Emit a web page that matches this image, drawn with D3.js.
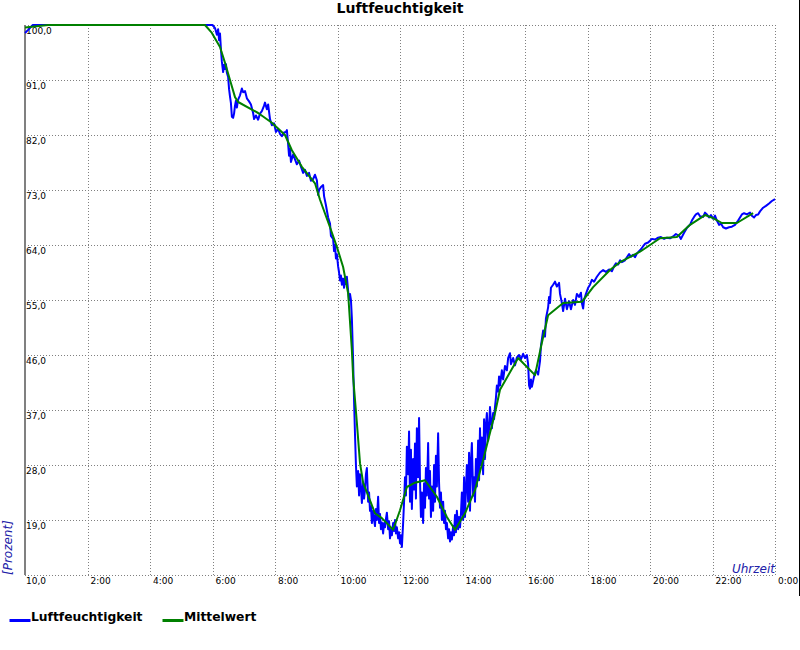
<!DOCTYPE html>
<html><head><meta charset="utf-8">
<script src="https://cdn.jsdelivr.net/npm/d3@7"></script>
<style>
body{margin:0;background:#fff;}
svg{display:block;font-family:"DejaVu Sans",sans-serif;}
</style></head>
<body>
<svg id="c" width="800" height="650"></svg>
<script>
// ---- data ----
const chartTitle = "Luftfeuchtigkeit";
const yTicks = [100, 91, 82, 73, 64, 55, 46, 37, 28, 19, 10];
const xTicks = [2, 4, 6, 8, 10, 12, 14, 16, 18, 20, 22, 24];
const xTickLabels = ["2:00","4:00","6:00","8:00","10:00","12:00","14:00","16:00","18:00","20:00","22:00","0:00"];
const seriesNames = ["Luftfeuchtigkeit", "Mittelwert"];
// [hour, percent]
const humidity = [[0,98.7],[0.1,99.2],[0.25,100],[6.0,100],[6.08,99.5],[6.14,98.4],[6.18,99.3],[6.21,97.5],[6.24,98.6],[6.27,96.0],[6.30,94.0],[6.34,92.3],[6.37,93.5],[6.40,92.8],[6.43,93.6],[6.46,92.2],[6.50,91.5],[6.53,89.5],[6.56,88.3],[6.59,87.2],[6.62,85.0],[6.66,84.8],[6.69,85.5],[6.72,86.8],[6.75,87.6],[6.78,86.5],[6.82,87.8],[6.88,88.5],[6.94,89.6],[6.98,89.0],[7.04,89.2],[7.10,88.0],[7.17,87.5],[7.23,87.0],[7.30,85.6],[7.33,84.6],[7.39,85.2],[7.46,84.5],[7.52,85.5],[7.58,85.9],[7.65,86.8],[7.68,87.3],[7.74,86.2],[7.78,87.0],[7.84,84.6],[7.90,83.6],[7.97,83.9],[8.03,82.5],[8.10,83.0],[8.16,82.2],[8.22,81.8],[8.29,82.4],[8.35,82.5],[8.38,82.8],[8.42,80.5],[8.45,78.6],[8.48,79.8],[8.51,77.6],[8.58,78.8],[8.64,78.0],[8.70,77.2],[8.77,77.8],[8.83,76.8],[8.90,75.8],[8.96,76.3],[9.02,75.3],[9.09,75.8],[9.15,74.5],[9.22,74.8],[9.28,75.5],[9.34,74.6],[9.38,72.2],[9.41,73.0],[9.47,73.5],[9.54,73.8],[9.57,72.0],[9.63,70.5],[9.70,68.5],[9.76,67.5],[9.79,65.5],[9.86,65.0],[9.89,63.0],[9.92,64.0],[9.95,61.8],[9.98,62.5],[10.02,60.5],[10.05,59.5],[10.08,58.2],[10.11,59.0],[10.14,57.5],[10.18,58.5],[10.21,57.0],[10.24,58.6],[10.27,57.6],[10.30,58.8],[10.34,56.5],[10.37,55.0],[10.40,56.0],[10.43,55.0],[10.46,52.0],[10.50,45.0],[10.53,38.5],[10.56,33.0],[10.59,28.0],[10.62,24.5],[10.66,27.0],[10.69,23.0],[10.72,26.5],[10.75,24.5],[10.78,21.8],[10.82,25.0],[10.85,22.5],[10.88,24.0],[10.91,26.5],[10.94,27.5],[10.98,22.0],[11.01,23.5],[11.04,20.5],[11.07,21.2],[11.10,18.5],[11.14,20.5],[11.17,19.0],[11.20,18.0],[11.23,20.8],[11.26,19.0],[11.30,22.8],[11.33,18.5],[11.36,20.0],[11.39,17.5],[11.42,18.6],[11.46,16.8],[11.49,18.5],[11.52,17.8],[11.55,19.2],[11.58,20.2],[11.62,17.5],[11.65,18.8],[11.68,16.0],[11.71,17.5],[11.74,16.5],[11.78,18.5],[11.81,17.2],[11.84,19.0],[11.87,16.8],[11.90,17.8],[11.94,16.0],[11.97,17.0],[12.00,15.2],[12.03,16.5],[12.06,14.6],[12.10,18.5],[12.13,22.0],[12.16,26.0],[12.19,23.0],[12.22,31.0],[12.26,26.5],[12.29,33.5],[12.32,22.0],[12.35,30.5],[12.38,20.8],[12.42,29.0],[12.45,24.0],[12.48,31.5],[12.51,22.5],[12.54,34.0],[12.58,26.0],[12.61,35.7],[12.64,25.5],[12.67,19.5],[12.70,23.5],[12.74,18.5],[12.77,25.0],[12.80,21.0],[12.83,27.5],[12.86,23.0],[12.90,31.6],[12.93,22.5],[12.96,27.0],[12.99,19.5],[13.02,24.5],[13.06,20.5],[13.09,28.0],[13.12,22.0],[13.15,29.5],[13.18,24.5],[13.22,33.2],[13.25,25.0],[13.28,21.0],[13.31,23.5],[13.34,19.0],[13.38,22.0],[13.41,18.5],[13.44,20.5],[13.47,17.5],[13.50,18.5],[13.54,16.0],[13.57,17.5],[13.60,15.5],[13.63,17.0],[13.66,15.8],[13.70,18.0],[13.73,16.5],[13.76,19.8],[13.79,17.0],[13.82,20.5],[13.86,17.5],[13.89,19.5],[13.92,17.8],[13.95,20.0],[13.98,23.5],[14.02,19.0],[14.05,26.0],[14.08,19.5],[14.11,24.0],[14.14,28.0],[14.18,22.0],[14.21,30.0],[14.24,20.5],[14.27,28.5],[14.30,31.6],[14.34,23.0],[14.37,26.0],[14.40,22.0],[14.43,29.0],[14.46,24.5],[14.50,32.0],[14.53,25.5],[14.56,34.0],[14.59,28.0],[14.62,32.5],[14.66,26.5],[14.69,35.5],[14.72,29.0],[14.75,34.5],[14.78,36.5],[14.82,32.0],[14.85,34.0],[14.88,37.5],[14.91,35.0],[14.94,34.0],[14.98,36.5],[15.01,35.5],[15.04,37.5],[15.07,39.0],[15.10,41.0],[15.14,40.0],[15.17,42.5],[15.20,41.0],[15.26,43.5],[15.30,42.0],[15.36,44.2],[15.42,43.5],[15.46,45.5],[15.52,46.3],[15.55,44.5],[15.62,45.5],[15.68,44.3],[15.74,45.6],[15.81,46.0],[15.87,45.3],[15.94,46.2],[16.00,45.5],[16.06,46.0],[16.10,44.5],[16.13,41.0],[16.16,40.5],[16.19,42.0],[16.22,40.8],[16.29,42.5],[16.35,43.5],[16.42,42.8],[16.48,45.0],[16.51,47.5],[16.58,50.0],[16.64,49.0],[16.67,52.0],[16.74,53.8],[16.77,55.5],[16.80,54.5],[16.83,57.0],[16.90,57.5],[16.96,58.0],[17.02,57.2],[17.09,57.8],[17.12,56.0],[17.18,54.5],[17.22,53.2],[17.28,55.2],[17.34,53.5],[17.41,54.8],[17.47,53.5],[17.54,55.0],[17.60,54.2],[17.66,56.0],[17.73,55.5],[17.79,56.2],[17.82,54.5],[17.86,53.6],[17.89,55.0],[17.95,56.0],[18.02,57.0],[18.08,57.5],[18.14,58.3],[18.21,58.0],[18.30,58.8],[18.40,59.5],[18.50,59.9],[18.59,59.6],[18.69,60.0],[18.78,59.7],[18.85,60.5],[18.91,61.0],[18.98,60.8],[19.04,61.5],[19.10,61.2],[19.20,61.5],[19.26,62.0],[19.33,62.5],[19.39,62.1],[19.46,62.4],[19.52,62.0],[19.58,62.6],[19.65,63.0],[19.71,63.3],[19.78,63.8],[19.84,64.2],[19.94,64.4],[20.00,64.7],[20.06,65.0],[20.16,64.9],[20.26,65.2],[20.35,65.3],[20.45,65.0],[20.54,65.2],[20.64,65.1],[20.74,65.4],[20.83,65.8],[20.93,65.5],[20.99,65.0],[21.09,66.0],[21.18,66.8],[21.28,67.3],[21.34,68.0],[21.41,68.6],[21.47,69.0],[21.54,69.2],[21.60,68.7],[21.70,68.6],[21.76,69.3],[21.82,69.0],[21.89,68.5],[21.95,68.9],[22.02,68.3],[22.08,68.8],[22.14,68.0],[22.21,67.3],[22.27,67.5],[22.34,66.9],[22.43,66.7],[22.53,66.9],[22.62,67.0],[22.72,67.3],[22.82,68.0],[22.88,68.5],[22.94,69.0],[23.01,69.2],[23.10,69.0],[23.20,69.3],[23.26,68.8],[23.33,68.5],[23.39,68.9],[23.46,69.0],[23.52,69.5],[23.62,70.1],[23.71,70.4],[23.81,70.8],[23.90,71.2],[24.00,71.5]];
const mittelwert = [[0,99.6],[0.74,100],[5.76,100],[5.98,98.7],[6.24,96.4],[6.40,93.8],[6.56,91.0],[6.72,88.2],[6.82,87.4],[7.46,85.6],[7.90,84.0],[8.32,82.0],[8.54,79.5],[8.86,76.8],[9.28,74.1],[9.44,71.4],[9.76,66.9],[9.98,63.7],[10.18,60.4],[10.34,56.1],[10.46,46.8],[10.50,42.4],[10.62,34.9],[10.72,28.3],[10.82,25.1],[11.2,20.1],[11.42,19.3],[11.78,17.4],[12.0,20.6],[12.22,24.4],[12.48,25.1],[12.8,25.5],[13.18,22.8],[13.5,19.5],[13.76,17.4],[14.08,20.1],[14.4,23.9],[14.66,28.8],[15.04,36.5],[15.2,40.3],[15.78,45.5],[16.32,42.7],[16.54,48.0],[16.74,52.5],[17.22,54.5],[17.82,54.7],[18.18,57.1],[18.72,59.9],[19.04,61.2],[19.68,62.9],[20.0,64.0],[20.32,65.1],[20.86,65.3],[21.28,67.3],[21.76,68.9],[22.02,68.4],[22.3,67.6],[22.78,67.6],[23.3,69.2]];
const seriesColors = ["#0000ff", "#008000"];

// ---- chart ----
const svg = d3.select("#c");
const x = d3.scaleLinear().domain([0, 24]).range([25, 775]);
const y = d3.scaleLinear().domain([10, 100]).range([575, 25]);
const gridColor = "#808080";

// horizontal grid
svg.append("g").selectAll("line").data(yTicks).join("line")
  .attr("x1", x(0)).attr("x2", x(24))
  .attr("y1", d => Math.round(y(d)) + 0.5).attr("y2", d => Math.round(y(d)) + 0.5)
  .attr("stroke", gridColor).attr("stroke-width", 1).attr("stroke-dasharray", "1,2");
// vertical grid
svg.append("g").selectAll("line").data(xTicks).join("line")
  .attr("x1", d => Math.round(x(d)) + 0.5).attr("x2", d => Math.round(x(d)) + 0.5)
  .attr("y1", y(100)).attr("y2", y(10))
  .attr("stroke", gridColor).attr("stroke-width", 1).attr("stroke-dasharray", "1,2");

// y axis labels (inside, below each grid line)
const yAxis = d3.axisRight(y).tickValues(yTicks).tickSize(0)
  .tickFormat(d => d3.format(".1f")(d).replace(".", ","));
const gy = svg.append("g").attr("transform", "translate(25,0)").call(yAxis);
gy.select(".domain").remove();
gy.selectAll("text").attr("x", 1).attr("dy", "0").attr("y", 8.8)
  .attr("text-anchor", "start").attr("fill", "#000")
  .style("font-family", "'DejaVu Sans'").style("font-size", "9px");

// x axis labels
const xAxis = d3.axisBottom(x).tickValues(xTicks).tickSize(0)
  .tickFormat((d, i) => xTickLabels[i]);
const gx = svg.append("g").attr("transform", "translate(0,575)").call(xAxis);
gx.select(".domain").remove();
gx.selectAll("text").attr("x", 2.5).attr("y", 9).attr("dy", "0")
  .attr("text-anchor", "start").attr("fill", "#000")
  .style("font-family", "'DejaVu Sans'").style("font-size", "9px");

// left axis solid line
svg.append("line").attr("x1", 25).attr("x2", 25).attr("y1", y(100)).attr("y2", y(10))
  .attr("stroke", gridColor).attr("stroke-width", 2);

// lines
const line = d3.line().x(d => x(d[0])).y(d => y(d[1]));
svg.append("path").datum(humidity).attr("d", line)
  .attr("fill", "none").attr("stroke", seriesColors[0]).attr("stroke-width", 2)
  .attr("stroke-linejoin", "round");
svg.append("path").datum(mittelwert).attr("d", line)
  .attr("fill", "none").attr("stroke", seriesColors[1]).attr("stroke-width", 2)
  .attr("stroke-linejoin", "round");

// title
svg.append("text").attr("x", 400).attr("y", 13).attr("text-anchor", "middle")
  .style("font-family", "'DejaVu Sans'").style("font-weight", "bold").style("font-size", "14px")
  .text(chartTitle);

// axis titles
svg.append("text").attr("transform", "translate(11.5,575) rotate(-90)")
  .attr("text-anchor", "start").attr("fill", "#2020a8")
  .style("font-family", "'DejaVu Sans'").style("font-style", "italic").style("font-size", "12px")
  .text("[Prozent]");
svg.append("text").attr("x", 775).attr("y", 572.5).attr("text-anchor", "end").attr("fill", "#2020a8")
  .style("font-family", "'DejaVu Sans'").style("font-style", "italic").style("font-size", "12px")
  .text("Uhrzeit");

// right edge line
svg.append("line").attr("x1", 799.5).attr("x2", 799.5).attr("y1", 0).attr("y2", 596)
  .attr("stroke", "#000").attr("stroke-width", 1);

// legend
const legendX = [9.5, 162.5];
const lg = svg.append("g").selectAll("g").data(seriesNames).join("g")
  .attr("transform", (d, i) => `translate(${legendX[i]},0)`);
lg.append("line").attr("x1", 0).attr("x2", 21).attr("y1", 620.5).attr("y2", 620.5)
  .attr("stroke", (d, i) => seriesColors[i]).attr("stroke-width", 3);
lg.append("text").attr("x", 21.5).attr("y", 621)
  .style("font-family", "'DejaVu Sans'").style("font-weight", "bold").style("font-size", "12.3px")
  .text(d => d);
</script>
</body></html>
